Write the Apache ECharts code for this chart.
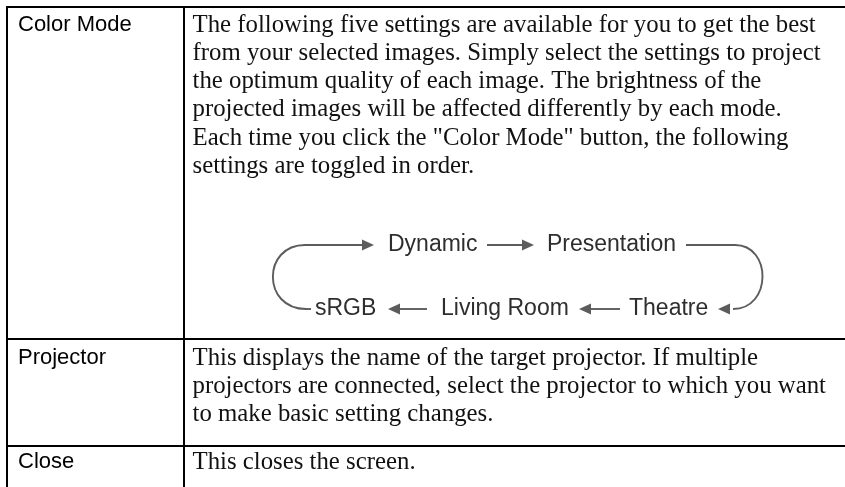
<!DOCTYPE html>
<html><head><meta charset="utf-8">
<script src="https://cdn.jsdelivr.net/npm/echarts@6/dist/echarts.min.js"></script>
<style>html,body{margin:0;padding:0;background:#fff}#c{width:845px;height:487px}</style>
</head><body><div id="c"></div>
<script>
// ---- content ----
const rowLabels = ["Color Mode", "Projector", "Close"];
const colorModeText = [
  "The following five settings are available for you to get the best",
  "from your selected images. Simply select the settings to project",
  "the optimum quality of each image. The brightness of the",
  "projected images will be affected differently by each mode.",
  "Each time you click the \"Color Mode\" button, the following",
  "settings are toggled in order."
];
const projectorText = [
  "This displays the name of the target projector. If multiple",
  "projectors are connected, select the projector to which you want",
  "to make basic setting changes."
];
const closeText = ["This closes the screen."];
const cycleTop = ["Dynamic", "Presentation"];
const cycleBottom = ["sRGB", "Living Room", "Theatre"];

// ---- layout ----
const W = 845, H = 487;
const serif = '24.8px "Liberation Serif", "Times New Roman", serif';
const sans = '22px "Liberation Sans", Arial, sans-serif';
const sansD = '23px "Liberation Sans", Arial, sans-serif';
const lineH = 28.33;
const colX = 184, leftX = 7, topY = 7;
const rowTops = [7, 339, 446];
const textX = 192.5, labelX = 18;

const g = [];
function hline(y, x1, x2) { g.push({type:'line', shape:{x1:x1, y1:y, x2:x2, y2:y}, style:{stroke:'#000', lineWidth:2}}); }
function vline(x, y1, y2) { g.push({type:'line', shape:{x1:x, y1:y1, x2:x, y2:y2}, style:{stroke:'#000', lineWidth:2}}); }
function txt(s, x, y, font, fill) {
  g.push({type:'text', x:x, y:y, style:{text:s, font:font, fill:fill, textAlign:'left', align:'left', textVerticalAlign:'middle', verticalAlign:'middle'}});
}
hline(topY, leftX - 1, W + 2);
hline(rowTops[1], leftX - 1, W + 2);
hline(rowTops[2], leftX - 1, W + 2);
vline(leftX, topY - 1, H + 2);
vline(colX, topY - 1, H + 2);

const bodies = [colorModeText, projectorText, closeText];
const firstOffsets = [18, 19, 16];
bodies.forEach(function (lines, r) {
  const y0 = rowTops[r] + firstOffsets[r];
  txt(rowLabels[r], labelX, y0, sans, '#000');
  lines.forEach(function (s, i) { txt(s, textX, y0 + i * lineH, serif, '#111'); });
});

// ---- cycle diagram ----
const yT = 245, yB = 309;
const gray = '#5c5c5c', tgray = '#2e2e2e';
const LW = 1.9;
function seg(x1, y1, x2, y2) { g.push({type:'line', shape:{x1:x1, y1:y1, x2:x2, y2:y2}, style:{stroke:gray, lineWidth:LW}}); }
function head(tip, y, dir) {
  const L = 12, hw = 5.5;
  g.push({type:'polygon', shape:{points:[[tip, y], [tip - dir * L, y - hw], [tip - dir * L, y + hw]]}, style:{fill:gray}});
}
function curve(x1, y1, cx, x2, y2) {
  g.push({type:'bezierCurve', shape:{x1:x1, y1:y1, cpx1:cx, cpy1:y1, cpx2:cx, cpy2:y2, x2:x2, y2:y2}, style:{stroke:gray, lineWidth:LW, fill:null}});
}
// top row
const topX = [388, 547];
txt(cycleTop[0], topX[0], yT, sansD, tgray);
txt(cycleTop[1], topX[1], yT, sansD, tgray);
seg(305, yT, 363, yT); head(374, yT, 1);
seg(487, yT, 523, yT); head(534, yT, 1);
seg(686, yT, 735, yT);
curve(735, yT, 772, 733, yB);
head(718, yB, -1);
// left bracket
curve(305, yT, 262, 306, yB);
seg(305.5, yB, 311, yB);
// bottom row
const botX = [315, 441, 629];
cycleBottom.forEach(function (s, i) { txt(s, botX[i], yB, sansD, tgray); });
head(388, yB, -1); seg(398, yB, 427, yB);
head(579, yB, -1); seg(589, yB, 620, yB);

const chart = echarts.init(document.getElementById('c'), null, {renderer:'canvas', width:W, height:H});
chart.setOption({backgroundColor:'#fff', animation:false, graphic:{elements:g}});
</script>
</body></html>
